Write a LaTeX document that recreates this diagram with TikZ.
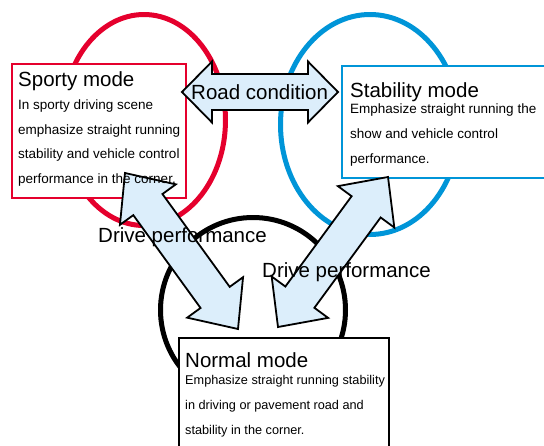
\documentclass[tikz,border=0pt]{standalone}
\usepackage{fontspec}
\setmainfont{Liberation Sans}
\usetikzlibrary{calc}
\pgfdeclarelayer{bg}
\pgfdeclarelayer{mid}
\pgfsetlayers{bg,mid,main}
\definecolor{sred}{HTML}{E5002D}
\definecolor{sblue}{HTML}{0095D8}
\definecolor{afill}{HTML}{DCEEFB}
\tikzset{
  fatarrowstyle/.style={draw=black, line width=1.8pt, fill=afill, line join=miter},
  ring/.style={line width=5pt},
  boxframe/.style={fill=white, line width=1.6pt, anchor=north west, inner sep=0pt},
  titletext/.style={font=\fontsize{20.5}{24}\selectfont, inner sep=0pt, anchor=base west},
  bodytext/.style={font=\fontsize{13.5}{24.6}\selectfont, inner sep=0pt, anchor=base west, align=left},
  labeltext/.style={font=\fontsize{20.5}{24}\selectfont, inner sep=0pt, anchor=base west}
}
\newcommand{\fatarrow}[5]{%
  \draw[fatarrowstyle] (#1)
   -- ($(#1)!#5!(#2)!#4!90:(#2)$)
   -- ($(#1)!#5!(#2)!#3!90:(#2)$)
   -- ($(#2)!#5!(#1)!#3!-90:(#1)$)
   -- ($(#2)!#5!(#1)!#4!-90:(#1)$)
   -- (#2)
   -- ($(#2)!#5!(#1)!#4!90:(#1)$)
   -- ($(#2)!#5!(#1)!#3!90:(#1)$)
   -- ($(#1)!#5!(#2)!#3!-90:(#2)$)
   -- ($(#1)!#5!(#2)!#4!-90:(#2)$)
   -- cycle;}
\begin{document}
\begin{tikzpicture}[x=1pt,y=-1pt]
\useasboundingbox (0,0) rectangle (544,445);
\begin{pgfonlayer}{bg}
  \draw[ring, sred] (144,120) ellipse [x radius=81.5pt, y radius=105.5pt];
  \draw[ring, sblue] (370,124.5) ellipse [x radius=89.5pt, y radius=110pt];
  \draw[ring, black] (253,310) circle [radius=92.5pt];
  \node[boxframe, draw=sred, minimum width=174pt, minimum height=134pt] (sportybox) at (11,63) {};
  \node[boxframe, draw=sblue, minimum width=206pt, minimum height=112pt] (stabbox) at (341,65) {};
  \node[boxframe, draw=black, minimum width=210pt, minimum height=120pt] (normbox) at (178,337) {};
\end{pgfonlayer}
\coordinate (roadL) at (182,92);
\coordinate (roadR) at (338,92);
\coordinate (dlA) at (125,173);
\coordinate (dlB) at (238,329);
\coordinate (drA) at (278,327);
\coordinate (drB) at (388,177);
\begin{pgfonlayer}{mid}
  \fatarrow{roadL}{roadR}{18pt}{30.5pt}{30pt}
  \fatarrow{dlA}{dlB}{18pt}{34.5pt}{39pt}
  \fatarrow{drA}{drB}{18pt}{35pt}{37pt}
\end{pgfonlayer}
\node[titletext] (sportyt) at (18,86) {Sporty mode};
\node[bodytext] (sportyb) at (18,183.5) {In sporty driving scene\\emphasize straight running\\stability and vehicle control\\performance in the corner.};
\node[titletext] (stabt) at (350,97) {Stability mode};
\node[bodytext] (stabb) at (350,163) {Emphasize straight running the\\show and vehicle control\\performance.};
\node[titletext] (normt) at (185,367) {Normal mode};
\node[bodytext, font=\fontsize{12.7}{24.6}\selectfont] (normb) at (185,434) {Emphasize straight running stability\\in driving or pavement road and\\stability in the corner.};
\node[labeltext] (road) at (191,99) {Road condition};
\node[labeltext] (drive1) at (98,242) {Drive performance};
\node[labeltext] (drive2) at (262,277) {Drive performance};
\end{tikzpicture}
\end{document}
